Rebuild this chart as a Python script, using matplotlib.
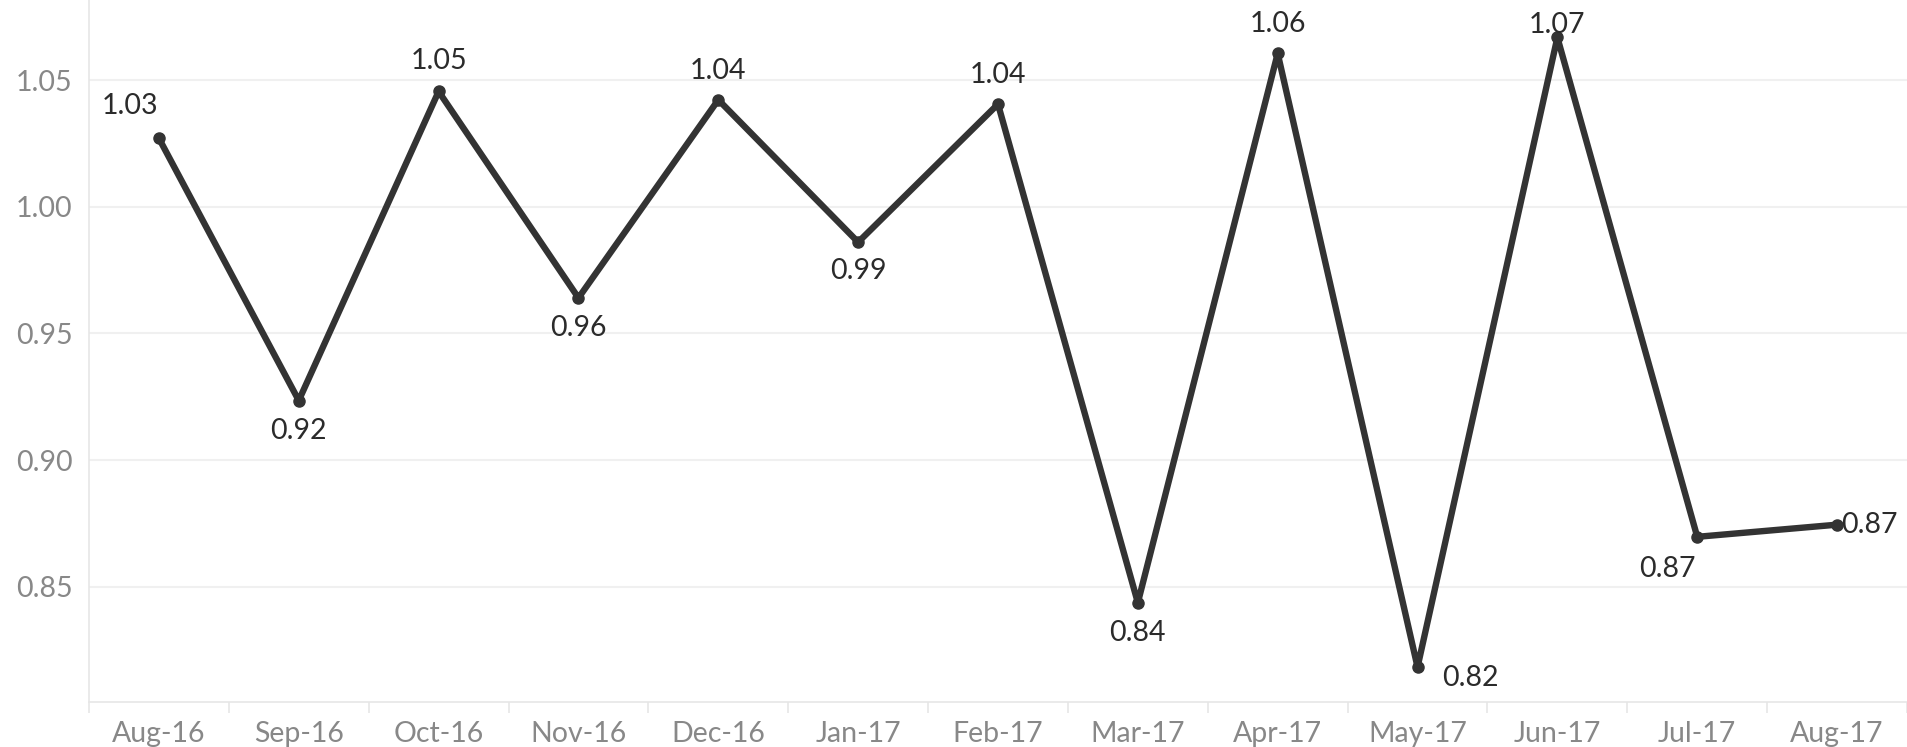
import matplotlib
matplotlib.use("Agg")
import matplotlib.pyplot as plt

months = ["Aug-16", "Sep-16", "Oct-16", "Nov-16", "Dec-16", "Jan-17", "Feb-17",
          "Mar-17", "Apr-17", "May-17", "Jun-17", "Jul-17", "Aug-17"]
ratio = [1.027, 0.9235, 1.0455, 0.9640, 1.0422, 0.9860, 1.0405,
         0.8437, 1.0605, 0.8183, 1.0668, 0.8697, 0.8745]
# label offsets in pixels (dx, dy) and horizontal alignment per point
label_pos = [(-29, 32, "center"), (0, -30, "center"), (0, 30, "center"),
             (0, -30, "center"), (0, 29, "center"), (0, -29, "center"),
             (0, 29, "center"), (0, -30, "center"), (0, 29, "center"),
             (53, -11, "center"), (0, 12, "center"), (-30, -32, "center"),
             (4, 0, "left")]

plt.rcParams["font.family"] = ["Lato", "DejaVu Sans"]

fig = plt.figure(figsize=(19.07, 7.47), dpi=100)
ax = fig.add_axes([89 / 1907, 45 / 747, 1 - 89 / 1907, 702 / 747])

x = list(range(len(months)))
ax.plot(x, ratio, color="#333333", linewidth=4.6, marker="o", markersize=8,
        solid_capstyle="round", solid_joinstyle="round", zorder=3)

for xi, v, (dx, dy, ha) in zip(x, ratio, label_pos):
    ax.annotate(f"{v:.2f}", (xi, v), xytext=(dx, dy), textcoords="offset pixels",
                ha=ha, va="center", fontsize=20.5, color="#2b2b2b", zorder=4)

ax.set_xlim(-0.5, len(months) - 0.5)
ax.set_ylim(0.8045, 1.0816)

ax.set_yticks([0.85, 0.90, 0.95, 1.00, 1.05])
ax.set_yticklabels([f"{t:.2f}" for t in [0.85, 0.90, 0.95, 1.00, 1.05]])
ax.set_xticks(x)
ax.set_xticklabels(months)
ax.set_xticks([i - 0.5 for i in range(len(months) + 1)], minor=True)

ax.tick_params(axis="y", length=0, pad=12, labelsize=20.5, labelcolor="#888888")
ax.tick_params(axis="x", which="major", length=0, pad=14, labelsize=20.5,
               labelcolor="#888888")
ax.tick_params(axis="x", which="minor", length=8, width=1.2, color="#e6e6e6")

ax.grid(axis="y", color="#f0f0f0", linewidth=1.5)
ax.set_axisbelow(True)

for side in ["top", "right"]:
    ax.spines[side].set_visible(False)
for side in ["left", "bottom"]:
    ax.spines[side].set_color("#e6e6e6")
    ax.spines[side].set_linewidth(1.2)

fig.savefig("out.png", dpi=100)
